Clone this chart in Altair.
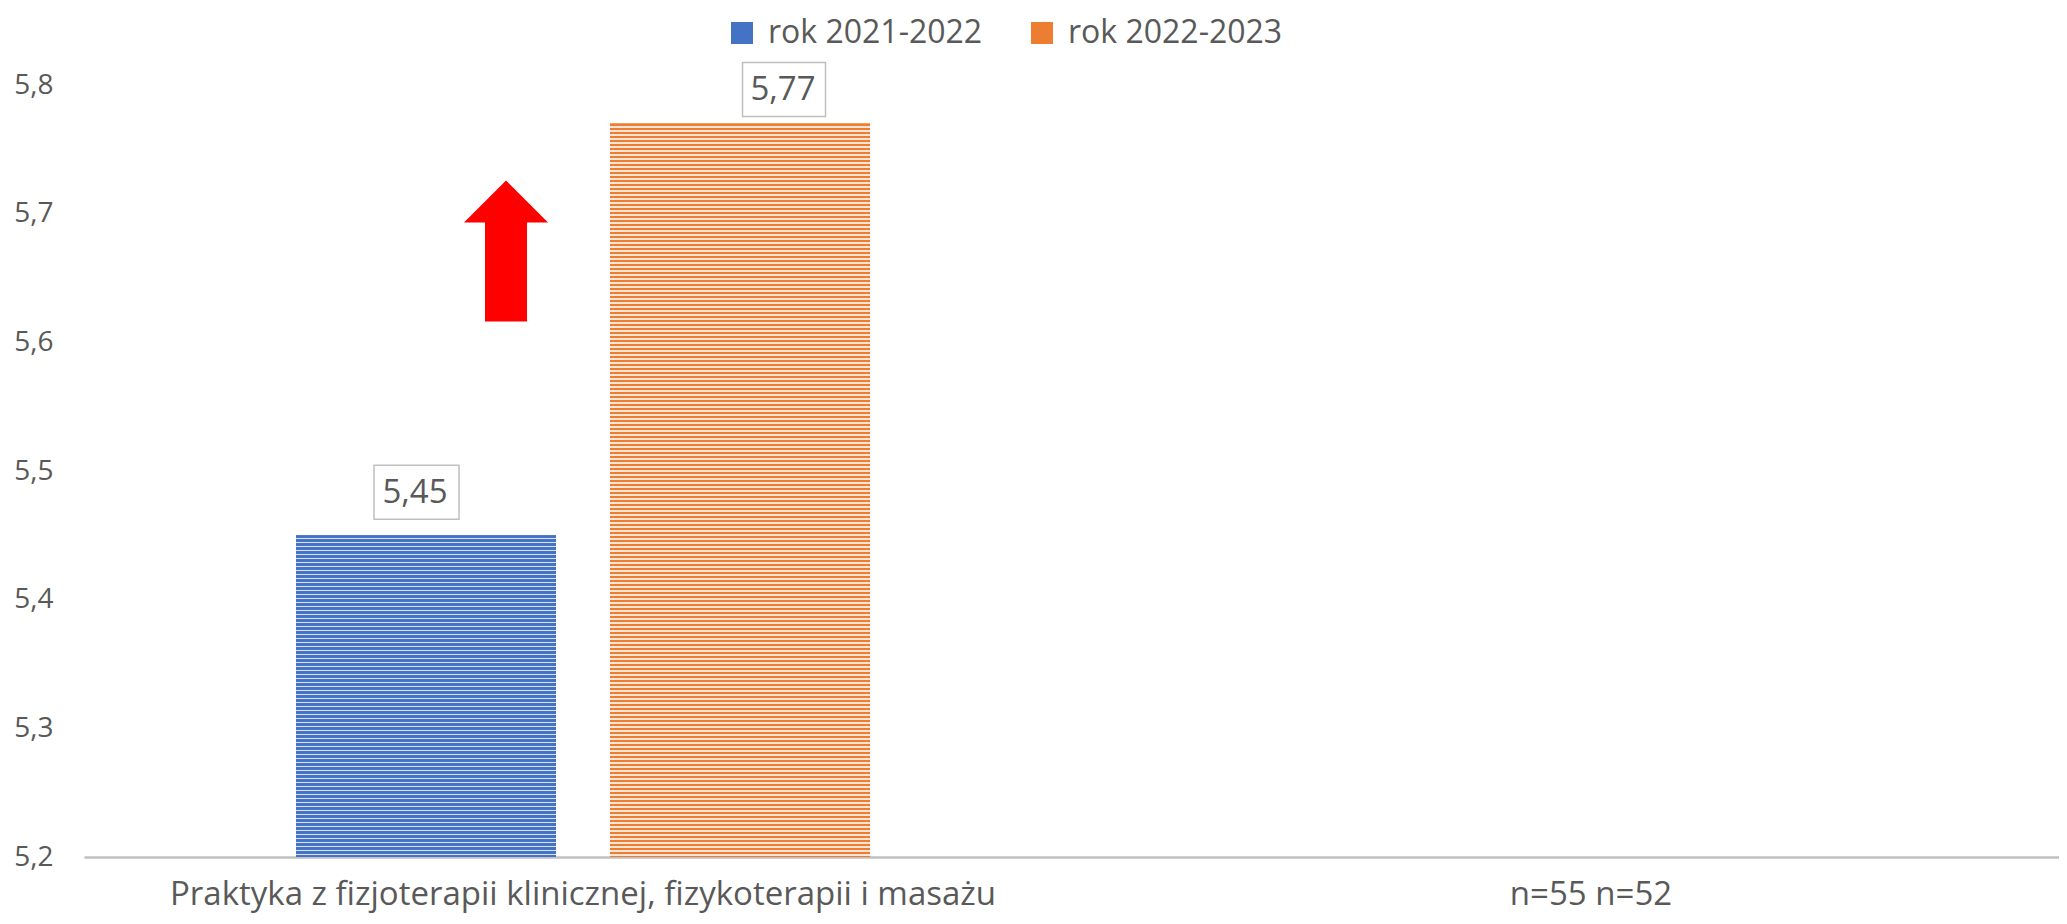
import math
import altair as alt
import pandas as pd

# ---- data ----
categories = ["Praktyka z fizjoterapii klinicznej, fizykoterapii i masażu", "n=55 n=52"]
series = ["rok 2021-2022", "rok 2022-2023"]
values = [5.45, 5.77]
value_labels = ["5,45", "5,77"]
y_ticks = [5.2, 5.3, 5.4, 5.5, 5.6, 5.7, 5.8]
arrow_category = [categories[0]]
arrow_value = [5.671]

dark_colors = ["#4472C4", "#ED7D31"]
light_colors = ["#DAE3F3", "#FBE5D6"]

FONT = "Open Sans"
TEXT = "#595959"
W, H = 1975, 772
y_min, y_max = y_ticks[0], y_ticks[-1]

df = pd.DataFrame({
    "category": [categories[0]] * len(series),
    "series": series,
    "value": values,
    "label": value_labels,
    "base": [y_min] * len(series),
})
arrow_df = pd.DataFrame({"category": arrow_category, "value": arrow_value})


def stripes(dark, light, v, period=4.0, dark_frac=0.55):
    """Horizontal stripe fill: gradient vector spans a whole number of periods."""
    h = (v - y_min) / (y_max - y_min) * H
    n = math.ceil(h / period)
    stops = []
    for i in range(n):
        a, m, b = i / n, (i + dark_frac) / n, (i + 1) / n
        stops += [
            {"offset": a, "color": dark},
            {"offset": m, "color": dark},
            {"offset": m, "color": light},
            {"offset": b, "color": light},
        ]
    return {"gradient": "linear", "x1": 0, "y1": 0, "x2": 0, "y2": n * period / h,
            "stops": stops}


x_enc = alt.X(
    "category:N",
    scale=alt.Scale(domain=categories, paddingInner=0.0714, paddingOuter=0.01538, align=1),
    axis=alt.Axis(
        title=None, labelAngle=0, ticks=False, domainColor="#BFBFBF", domainWidth=2.5,
        labelPadding=21, labelFontSize=33, labelFont=FONT, labelColor=TEXT, labelLimit=0,
    ),
)
xo_enc = alt.XOffset(
    "series:N", scale=alt.Scale(domain=series, paddingInner=0.172, paddingOuter=0.5764)
)
y_scale = alt.Scale(domain=[y_min, y_max], zero=False, nice=False)
y_enc = alt.Y(
    "value:Q",
    scale=y_scale,
    axis=alt.Axis(
        title=None, values=y_ticks, grid=False, domain=False, ticks=False,
        labelExpr="replace(format(datum.value, '.1f'), '.', ',')",
        labelPadding=31, labelFontSize=28, labelFont=FONT, labelColor=TEXT,
    ),
)

base = alt.Chart(df)

solid = base.mark_bar(strokeWidth=0).encode(
    x=x_enc, xOffset=xo_enc, y=y_enc, y2="base:Q",
    color=alt.Color(
        "series:N",
        scale=alt.Scale(domain=series, range=dark_colors),
        legend=alt.Legend(
            title=None, orient="none", legendX=642, legendY=-68, direction="horizontal",
            symbolType="square", symbolSize=484, symbolStrokeWidth=0, symbolOpacity=1,
            labelFont=FONT, labelFontSize=32, labelColor=TEXT, labelOffset=10,
            labelLimit=0, columnPadding=43, padding=0,
        ),
    ),
)

layers = [solid]
for s, v, dk, lt in zip(series, values, dark_colors, light_colors):
    layers.append(
        base.transform_filter(alt.datum.series == s)
        .mark_bar(fill=stripes(dk, lt, v), strokeWidth=0)
        .encode(x=x_enc, xOffset=xo_enc, y=y_enc, y2="base:Q")
    )

# red arrow annotation
arrow_path = "M0,-1L0.596,-0.404L0.298,-0.404L0.298,1L-0.298,1L-0.298,-0.404L-0.596,-0.404Z"
arrow = alt.Chart(arrow_df).mark_point(
    shape=arrow_path, size=141 ** 2, filled=True, fill="#FF0000", opacity=1,
    strokeWidth=0, xOffset=-77,
).encode(x=x_enc, y=alt.Y("value:Q", scale=y_scale))
layers.append(arrow)

# boxed value labels (box shape offset from bar top, 1 unit = 100px)
box_paths = [
    "M-0.52,-0.70L0.33,-0.70L0.33,-0.16L-0.52,-0.16Z",
    "M0.025,-0.61L0.855,-0.61L0.855,-0.07L0.025,-0.07Z",
]
text_offsets = [(-11, -42), (43, -34)]
for s, path, (dx, dy) in zip(series, box_paths, text_offsets):
    sub = base.transform_filter(alt.datum.series == s)
    layers.append(
        sub.mark_point(shape=path, size=200 ** 2, filled=False, stroke="#BFBFBF",
                       strokeWidth=1.5, opacity=1)
        .encode(x=x_enc, xOffset=xo_enc, y=alt.Y("value:Q", scale=y_scale))
    )
    layers.append(
        sub.mark_text(dx=dx, dy=dy, font=FONT, fontSize=33, color=TEXT, baseline="middle")
        .encode(x=x_enc, xOffset=xo_enc, y=alt.Y("value:Q", scale=y_scale), text="label:N")
    )

chart = (
    alt.layer(*layers)
    .properties(
        width=W, height=H,
        autosize=alt.AutoSizeParams(type="none"),
        padding={"left": 76, "top": 77, "right": 0, "bottom": 59},
    )
    .configure(background="white")
    .configure_view(strokeWidth=0, stroke="transparent")
)

chart.save("out.html", embed_options={"renderer": "svg", "actions": False})
